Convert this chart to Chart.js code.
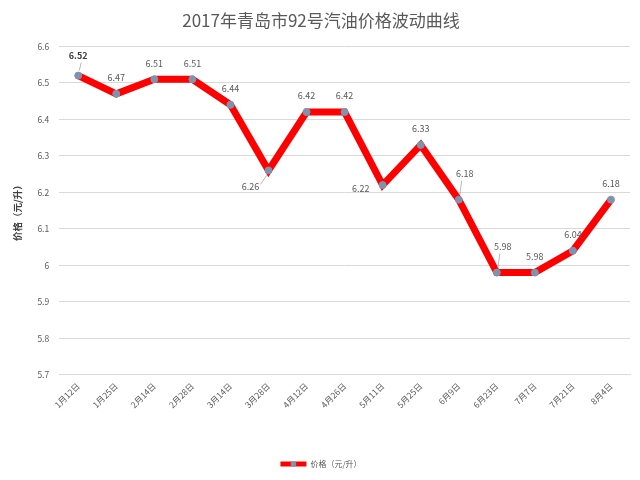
<!DOCTYPE html>
<html>
<head>
<meta charset="utf-8">
<script src="https://cdn.jsdelivr.net/npm/chart.js@4.4.1/dist/chart.umd.min.js"></script>
<style>
html,body{margin:0;padding:0;background:#fff;}
#wrap{width:640px;height:480px;}
</style>
</head>
<body>
<div id="wrap"><canvas id="c" width="640" height="480"></canvas></div>
<script>
const chartTitle = '2017年青岛市92号汽油价格波动曲线';
const seriesName = '价格（元/升）';
const yAxisTitle = '价格（元/升）';
const categories = ['1月12日','1月25日','2月14日','2月28日','3月14日','3月28日','4月12日','4月26日','5月11日','5月25日','6月9日','6月23日','7月7日','7月21日','8月4日'];
const prices = [6.52, 6.47, 6.51, 6.51, 6.44, 6.26, 6.42, 6.42, 6.22, 6.33, 6.18, 5.98, 5.98, 6.04, 6.18];
const yMin = 5.7, yMax = 6.6, yStep = 0.1;

// label placement per point (style only)
const labelPlace = ['above','above','above','above','above','belowLeft','above','above','left','above','aboveRight','aboveRight','above','above','above'];

const FONT = '"Noto Sans CJK SC", "Noto Sans", sans-serif';
const LINE_RED = '#FF0000';
const MARKER = '#7F93AE';
const LEGEND_W = 26;

const dataLabels = {
  id: 'dataLabels',
  afterDatasetsDraw(chart) {
    const ctx = chart.ctx;
    const meta = chart.getDatasetMeta(0);
    ctx.save();
    ctx.textAlign = 'center';
    ctx.textBaseline = 'middle';
    meta.data.forEach((pt, i) => {
      const txt = String(prices[i]);
      let x = pt.x, y = pt.y - 16;
      let lead = null;
      const p = labelPlace[i];
      if (p === 'belowLeft') { x = pt.x - 18; y = pt.y + 16; lead = [pt.x - 8, pt.y + 14, pt.x - 2, pt.y + 5]; }
      else if (p === 'left') { x = pt.x - 22; y = pt.y + 4; }
      else if (p === 'aboveRight') { x = pt.x + 6; y = pt.y - 26; lead = [pt.x + 3, pt.y - 19, pt.x + 1, pt.y - 5]; }
      if (i === 0) { y = pt.y - 20; lead = [pt.x + 3, pt.y - 13, pt.x + 1, pt.y - 5]; ctx.font = 'bold 9px ' + FONT; ctx.fillStyle = '#404040'; }
      else { ctx.font = '9px ' + FONT; ctx.fillStyle = '#595959'; }
      ctx.fillText(txt, x, y);
      if (lead) {
        ctx.strokeStyle = '#A6A6A6';
        ctx.lineWidth = 0.8;
        ctx.beginPath();
        ctx.moveTo(lead[0], lead[1]);
        ctx.lineTo(lead[2], lead[3]);
        ctx.stroke();
      }
    });
    ctx.restore();
  },
  afterDraw(chart) {
    const lg = chart.legend;
    if (!lg || !lg.legendHitBoxes || !lg.legendHitBoxes.length) return;
    const hb = lg.legendHitBoxes[0];
    const ctx = chart.ctx;
    const cx = hb.left + LEGEND_W / 2;
    const cy = hb.top + hb.height / 2;
    ctx.save();
    ctx.fillStyle = MARKER;
    ctx.beginPath();
    ctx.arc(cx, cy, 2.8, 0, Math.PI * 2);
    ctx.fill();
    ctx.restore();
  }
};

new Chart(document.getElementById('c'), {
  type: 'line',
  data: {
    labels: categories,
    datasets: [{
      label: seriesName,
      data: prices,
      borderColor: LINE_RED,
      backgroundColor: LINE_RED,
      borderWidth: 7,
      borderJoinStyle: 'miter',
      tension: 0,
      pointRadius: 3.5,
      pointBackgroundColor: MARKER,
      pointBorderColor: MARKER,
      pointBorderWidth: 1,
      fill: false
    }]
  },
  options: {
    responsive: false,
    animation: false,
    devicePixelRatio: 1,
    layout: { padding: { left: 12, right: 10, top: 4, bottom: 2 } },
    plugins: {
      title: {
        display: true,
        text: chartTitle,
        color: '#595959',
        font: { family: FONT, size: 17, weight: 'normal' },
        padding: { top: 6, bottom: 16 }
      },
      legend: {
        display: true,
        position: 'bottom',
        labels: {
          usePointStyle: true,
          pointStyleWidth: LEGEND_W,
          boxWidth: LEGEND_W,
          boxHeight: 8,
          color: '#595959',
          font: { family: FONT, size: 8 },
          padding: 10,
          generateLabels: chart => chart.data.datasets.map((ds, i) => ({
            text: ds.label,
            fillStyle: LINE_RED,
            strokeStyle: LINE_RED,
            lineWidth: 5,
            pointStyle: 'line',
            fontColor: '#595959',
            datasetIndex: i,
            hidden: false
          }))
        }
      },
      tooltip: { enabled: false }
    },
    scales: {
      x: {
        type: 'category',
        offset: true,
        grid: { display: false, drawTicks: false },
        border: { display: true, color: '#D9D9D9' },
        ticks: {
          color: '#595959',
          font: { family: FONT, size: 8.5 },
          maxRotation: 45,
          minRotation: 45,
          padding: 6,
          autoSkip: false
        },
        afterFit: scale => { scale.height += 34; }
      },
      y: {
        min: yMin,
        max: yMax,
        grid: { color: '#D9D9D9', drawTicks: false },
        border: { display: false },
        ticks: {
          stepSize: yStep,
          color: '#595959',
          font: { family: FONT, size: 8.5 },
          padding: 10,
          callback: v => String(parseFloat(Number(v).toFixed(1)))
        },
        title: {
          display: true,
          text: yAxisTitle,
          color: '#404040',
          font: { family: FONT, size: 9.5, weight: 'bold' },
          padding: { top: 0, bottom: 4 }
        }
      }
    }
  },
  plugins: [dataLabels]
});
</script>
</body>
</html>
